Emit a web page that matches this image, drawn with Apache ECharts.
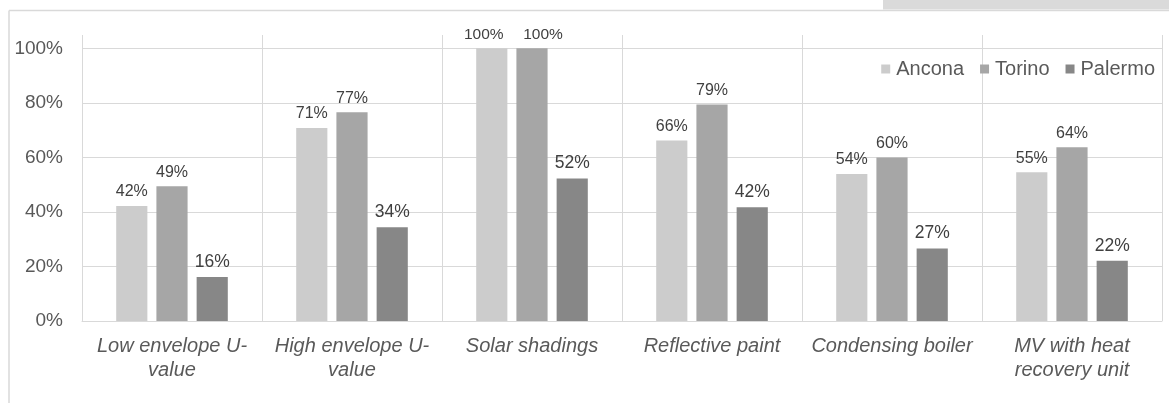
<!DOCTYPE html>
<html>
<head>
<meta charset="utf-8">
<script src="https://cdn.jsdelivr.net/npm/echarts@6/dist/echarts.min.js"></script>
<style>
html,body{margin:0;padding:0;background:#fff;}
#chart{width:1169px;height:403px;}
</style>
</head>
<body>
<div id="chart"></div>
<script>
const categories = ['Low envelope U-\nvalue', 'High envelope U-\nvalue', 'Solar shadings', 'Reflective paint', 'Condensing boiler', 'MV with heat\nrecovery unit'];
const seriesNames = ['Ancona', 'Torino', 'Palermo'];
const ancona = [42.2, 70.8, 100, 66.2, 53.9, 54.6];
const torino = [49.4, 76.6, 100, 79.4, 60.0, 63.7];
const palermo = [16.1, 34.4, 52.3, 41.7, 26.6, 22.1];
const yTicks = [0, 20, 40, 60, 80, 100];

const colors = ['#cccccc', '#a6a6a6', '#878787'];
const labelSizes = [16, 16, 17.5];
const FONT = '"Liberation Sans", Arial, sans-serif';

const chart = echarts.init(document.getElementById('chart'), null, {renderer: 'canvas'});
const dataSets = [ancona, torino, palermo];
// Excel nudges the two touching 100% labels apart
const fullOffsets = [-8, 11, 0];

chart.setOption({
  animation: false,
  backgroundColor: '#ffffff',
  textStyle: {fontFamily: FONT},
  graphic: [
    {type: 'rect', shape: {x: 883, y: 0, width: 286, height: 9.5}, style: {fill: '#dadada'}, silent: true},
    {type: 'line', shape: {x1: 9, y1: 10.5, x2: 1169, y2: 10.5}, style: {stroke: '#d9d9d9', lineWidth: 1.5}, silent: true},
    {type: 'line', shape: {x1: 9, y1: 10.5, x2: 9, y2: 403}, style: {stroke: '#d9d9d9', lineWidth: 1.5}, silent: true}
  ],
  legend: {
    data: seriesNames,
    right: 9,
    top: 54,
    itemWidth: 9,
    itemHeight: 9,
    itemGap: 16,
    icon: 'rect',
    textStyle: {fontSize: 20, color: '#595959', fontFamily: FONT, padding: [0, 0, 0, 1]}
  },
  grid: {left: 82, right: 7, top: 35, bottom: 82, containLabel: false},
  xAxis: {
    type: 'category',
    data: categories,
    axisLine: {show: true, lineStyle: {color: '#d9d9d9', width: 1}},
    axisTick: {show: false},
    splitLine: {show: true, lineStyle: {color: '#d9d9d9', width: 1}},
    axisLabel: {
      interval: 0,
      margin: 13,
      fontSize: 20,
      fontStyle: 'italic',
      lineHeight: 24,
      color: '#595959',
      fontFamily: FONT
    }
  },
  yAxis: {
    type: 'value',
    min: 0,
    max: 104.9,
    interval: 20,
    axisLine: {show: false},
    axisTick: {show: false},
    splitLine: {show: true, lineStyle: {color: ['#d9d9d9','#d9d9d9','#d9d9d9','#d9d9d9','#d9d9d9','#d9d9d9','rgba(0,0,0,0)'], width: 1}},
    axisLabel: {
      margin: 19,
      fontSize: 19,
      color: '#595959',
      fontFamily: FONT,
      formatter: function (v) { return yTicks.indexOf(v) >= 0 ? v + '%' : ''; }
    }
  },
  series: seriesNames.map(function (name, i) {
    return {
      name: name,
      type: 'bar',
      data: dataSets[i].map(function (v) {
        return v >= 100 ? {value: v, label: {offset: [fullOffsets[i], 0], fontSize: 15.5}} : v;
      }),
      barGap: '29%',
      barCategoryGap: '38%',
      itemStyle: {color: colors[i]},
      label: {
        show: true,
        position: 'top',
        distance: 6,
        fontSize: labelSizes[i],
        color: '#404040',
        fontFamily: FONT,
        formatter: function (p) { return Math.round(p.value) + '%'; }
      }
    };
  })
});
</script>
</body>
</html>
